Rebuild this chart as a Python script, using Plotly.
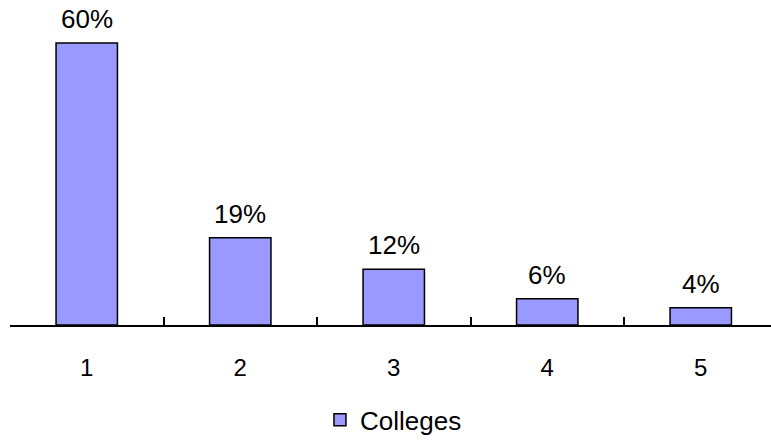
import plotly.graph_objects as go

categories = ["1", "2", "3", "4", "5"]
values = [60.2, 18.6, 11.9, 5.6, 3.7]
labels = ["60%", "19%", "12%", "6%", "4%"]
series_name = "Colleges"

FONT = "Liberation Sans, Arial, sans-serif"

fig = go.Figure()
fig.add_trace(go.Bar(
    x=categories, y=values, name=series_name,
    marker=dict(color="#9999FF", line=dict(color="#000000", width=1.5)),
    width=0.4, showlegend=True,
))

for i, (v, t) in enumerate(zip(values, labels)):
    fig.add_annotation(x=i, y=v, text=t, showarrow=False, yanchor="bottom",
                       yshift=7, font=dict(family=FONT, size=26, color="#000000"))

fig.update_layout(
    width=771, height=441,
    margin=dict(l=10, r=0, t=0, b=116, autoexpand=False),
    paper_bgcolor="white", plot_bgcolor="white",
    font=dict(family=FONT, size=22, color="#000000"),
    xaxis=dict(type="category", range=[-0.5, -0.5 + 761 / 153.5], automargin=False,
               showline=True, linecolor="#000000", linewidth=2,
               ticks="inside", ticklen=8, tickwidth=1.5, tickcolor="#000000",
               tickson="boundaries", ticklabelstandoff=20,
               tickfont=dict(family=FONT, size=24), showgrid=False, zeroline=False),
    yaxis=dict(visible=False, range=[0, 325 / 282 * 60.2], showgrid=False, zeroline=False),
    legend=dict(orientation="h", xref="container", yref="container",
                x=0.415, xanchor="left", y=0.048, yanchor="middle",
                font=dict(family=FONT, size=26), itemwidth=30),
    showlegend=True,
)

fig.write_html("out.html")
